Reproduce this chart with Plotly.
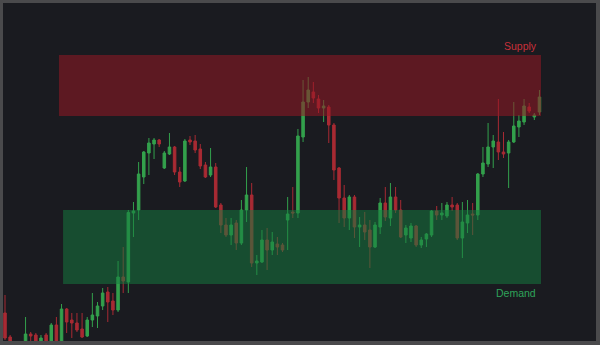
import plotly.graph_objects as go

# OHLC values (arbitrary price units)
opens = [32, 8, 2, -3, 2, 11, 10, 2, 10, 2, 20, 2, 36, 25, 22, 16, 9, 25, 29, 39,
         53, 44, 35, 68, 63, 132, 135, 168, 192, 201, 205, 177, 191, 198, 173, 164, 205, 204, 196, 180,
         170, 178, 140, 120, 110, 122, 102, 135, 150, 82, 83, 105, 95, 101, 100, 125, 133, 132, 208, 243,
         253, 246, 237, 238, 220, 177, 147, 127, 148, 118, 120, 115, 98, 118, 142, 127, 148, 135, 110, 107,
         119, 100, 106, 110, 134, 130, 129, 140, 140, 107, 122, 131, 130, 171, 181, 198, 203, 193, 192, 203,
         218, 223, 238, 228, 233]
highs = [50, 10, 4, 4, 28, 13, 12, 10, 12, 22, 28, 41, 37, 32, 32, 32, 28, 52, 43, 57,
         58, 52, 84, 98, 135, 143, 183, 194, 207, 207, 206, 194, 212, 199, 178, 206, 209, 210, 201, 183,
         197, 182, 142, 127, 127, 125, 145, 178, 162, 90, 115, 117, 113, 108, 102, 148, 158, 216, 265, 268,
         263, 250, 245, 240, 222, 178, 160, 150, 150, 128, 133, 125, 123, 147, 158, 162, 158, 145, 120, 122,
         120, 108, 112, 135, 139, 142, 143, 148, 142, 143, 145, 142, 172, 198, 222, 210, 246, 213, 205, 243,
         230, 246, 242, 232, 255]
lows = [5, 0, -6, -5, -1, 0, -1, -1, -1, -1, -1, 0, 12, 7, 13, 7, 8, 18, 17, 35,
        23, 30, 33, 52, 52, 108, 125, 161, 170, 186, 198, 176, 190, 170, 158, 163, 200, 192, 176, 167,
        168, 137, 112, 108, 100, 95, 100, 123, 78, 70, 82, 75, 90, 90, 93, 95, 127, 127, 203, 237,
        242, 232, 223, 202, 165, 122, 118, 115, 107, 98, 105, 77, 97, 111, 124, 119, 132, 107, 102, 103,
        98, 97, 98, 108, 125, 125, 127, 134, 105, 87, 112, 110, 125, 168, 178, 177, 185, 187, 157, 202,
        208, 220, 232, 225, 230]
closes = [7, 2, -4, 2, 11, 9, 2, 7, 2, 20, 2, 36, 23, 22, 15, 8, 25, 30, 39, 52,
          43, 35, 68, 64, 132.5, 134, 171, 193, 202, 205, 201, 192, 198, 173, 163, 204, 203, 195, 179, 168,
          178, 138, 120, 110, 120, 102, 135, 150, 82, 84, 105, 95, 103, 98, 95, 131, 132, 209, 243, 255,
          247, 237, 239, 220, 175, 147, 127, 148, 118, 120, 113, 98, 120, 142, 128, 148, 135, 108, 117, 119,
          100, 105, 111, 134, 130, 132, 140, 138, 107, 123, 130, 130, 171, 182, 198, 204, 193, 191, 203, 219,
          224, 239, 234, 230, 248]
bars = list(range(len(opens)))

# Zones: [low, high] price and [start, end] bar index
supply_zone = [229, 290]
supply_span = [10.5, 104.3]
demand_zone = [61, 135]
demand_span = [11.3, 104.3]

BG = "#1a1b20"
BORDER = "#4a4a4c"
UP = "#33a04c"
DOWN = "#a82a33"

fig = go.Figure()
fig.add_trace(go.Candlestick(
    x=bars, open=opens, high=highs, low=lows, close=closes,
    increasing=dict(line=dict(color=UP, width=1), fillcolor=UP),
    decreasing=dict(line=dict(color=DOWN, width=1), fillcolor=DOWN),
    whiskerwidth=0, showlegend=False, hoverinfo="skip",
))

fig.add_shape(type="rect", layer="above", line_width=0,
              x0=supply_span[0], x1=supply_span[1], y0=supply_zone[0], y1=supply_zone[1],
              fillcolor="rgba(150,24,36,0.55)")
fig.add_shape(type="rect", layer="above", line_width=0,
              x0=demand_span[0], x1=demand_span[1], y0=demand_zone[0], y1=demand_zone[1],
              fillcolor="rgba(22,125,64,0.52)")

fig.add_annotation(x=supply_span[1], y=supply_zone[1], text="Supply", showarrow=False,
                   xanchor="right", yanchor="bottom", yshift=1, xshift=-2,
                   font=dict(family="Liberation Sans, Arial", size=10.5, color="#c8303a"))
fig.add_annotation(x=demand_span[1], y=demand_zone[0], text="Demand", showarrow=False,
                   xanchor="right", yanchor="top", yshift=-1, xshift=-3,
                   font=dict(family="Liberation Sans, Arial", size=10.5, color="#2fa45a"))

fig.update_layout(
    width=600, height=345,
    margin=dict(l=3, r=4, t=3, b=4),
    paper_bgcolor=BORDER, plot_bgcolor=BG,
    boxgap=0.3,
    xaxis=dict(range=[-0.39, 115.0], visible=False, rangeslider=dict(visible=False),
               showgrid=False, zeroline=False, fixedrange=True),
    yaxis=dict(range=[4, 342], visible=False, showgrid=False, zeroline=False, fixedrange=True),
)

fig.write_html("out.html", config={"displayModeBar": False})
